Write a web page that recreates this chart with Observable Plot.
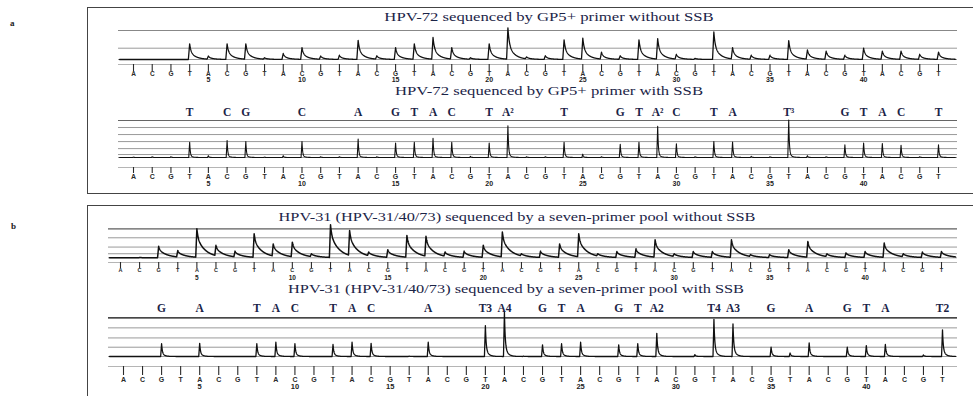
<!DOCTYPE html>
<html><head><meta charset="utf-8">
<script src="https://cdn.jsdelivr.net/npm/d3@7"></script>
<script src="https://cdn.jsdelivr.net/npm/@observablehq/plot@0.6"></script>
<style>
body{margin:0;background:#fff;}
#root{position:relative;width:973px;height:396px;overflow:hidden;background:#fff;font-family:"Liberation Serif","Times New Roman",serif;}
.title{position:absolute;white-space:nowrap;font-size:11.5px;color:#1b2447;z-index:3;line-height:1;}
.lab{position:absolute;font-size:9px;font-weight:bold;color:#222;z-index:3;line-height:1;}
.box{position:absolute;border:1.5px solid #444;box-sizing:border-box;}
.pl{position:absolute;left:0;z-index:2;}
</style></head><body><div id="root"></div>
<script>
// ---------- data ----------
const dispensation = "ACGTACGTACGTACGTACGTACGTACGTACGTACGTACGTACGT".split("");
const positions = d3.range(1, 45);
const numberTicks = [5, 10, 15, 20, 25, 30, 35, 40];

const aTopTitle = "HPV-72 sequenced by GP5+ primer without SSB";
const aBotTitle = "HPV-72 sequenced by GP5+ primer with SSB";
const bTopTitle = "HPV-31 (HPV-31/40/73) sequenced by a seven-primer pool without SSB";
const bBotTitle = "HPV-31 (HPV-31/40/73) sequenced by a seven-primer pool with SSB";

// peak heights per dispensation (top gridline = 100)
const aTopHeights = [0,0,0,54,12,54,54,6,21,41,12,15,66,13,41,54,76,41,6,54,109,9,13,68,74,25,13,68,72,18,4,95,41,15,15,65,33,29,15,39,29,29,18,25];
const aBotHeights = [1,2,2,41,5,46,43,1,5,43,2,2,50,2,39,41,52,41,3,39,86,2,2,41,9,2,36,41,84,37,2,43,42,3,2,101,5,2,34,39,38,33,2,34];
const bTopHeights = [0,1,40,25,100,43,23,83,48,54,14,114,94,20,28,77,74,20,23,43,89,14,23,48,83,14,22,31,62,14,22,22,62,11,11,28,56,14,17,22,51,14,20,22];
const bBotHeights = [0,0,33,0,34,0,0,33,37,33,0,31,37,34,0,1,37,0,0,80,115,1,30,33,37,0,30,33,60,0,5,96,84,0,24,9,35,0,24,28,31,0,4,69];

const aTopGrid = [100, 39, 0];
const aBotGrid = [100, 81, 62, 43, 24, 8, 0];
const bTopGrid = [100, 69, 37, 14, 0];
const bBotGrid = [100, 74, 48, 24, 0];

const aSeqPos = [4,6,7,10,13,15,16,17,18,20,21,24,27,28,29,30,32,33,36,39,40,41,42,44];
const aSeqLabels = ["T","C","G","C","A","G","T","A","C","T","A²","T","G","T","A²","C","T","A","T³","G","T","A","C","T"];
const bSeqPos = [3,5,8,9,10,12,13,14,17,20,21,23,24,25,27,28,29,32,33,35,37,39,40,41,44];
const bSeqLabels = ["G","A","T","A","C","T","A","C","A","T3","A4","G","T","A","G","T","A2","T4","A3","G","A","G","T","A","T2"];

// ---------- rendering ----------
const root = document.getElementById("root");
function addDiv(cls, text, css){ const d=document.createElement("div"); d.className=cls; if(text) d.textContent=text; Object.assign(d.style, css); root.appendChild(d); return d; }

addDiv("box", "", {left:"87px", top:"7px", width:"1000px", height:"187px"});
addDiv("box", "", {left:"87px", top:"205px", width:"1000px", height:"300px"});
addDiv("lab", "a", {left:"10px", top:"19px"});
addDiv("lab", "b", {left:"11px", top:"222px"});

function title(text, cx, cy, sx){
  const d = addDiv("title", text, {left: cx+"px", top: cy+"px"});
  d.style.transform = `translate(-50%,-50%) scaleX(${sx})`;
}
title(aTopTitle, 549, 18, 1.45);
title(aBotTitle, 549, 92, 1.45);
title(bTopTitle, 517, 218, 1.42);
title(bBotTitle, 516, 290, 1.42);

const makeKernel = (rise, parts) => d =>
  d < -rise ? 0 : d < 0 ? 1 + d / rise : d > 4 ? 0 : parts.reduce((s, [w, t]) => s + w * Math.exp(-d / t), 0);

function pyrogram(heights, grid, strongStroke, seqPos, seqLabels, L, kernel){
  // amplitudes so that the drawn tops equal the read heights
  const amp = [];
  heights.forEach((h, i) => {
    let carry = 0;
    for (let j = 0; j < i; j++) carry += amp[j] * kernel(i - j);
    amp.push(Math.max(0, h - carry));
  });
  const sp = (L.x44 - L.x1) / 43;
  const xStart = 1 + (L.gridLeft + 1 - L.x1) / sp, xEnd = 1 + (L.gridRight - 2 - L.x1) / sp;
  const trace = [];
  for (let n = Math.ceil(xStart * 100); n <= Math.floor(xEnd * 100); n++) {
    const x = n / 100; let y = 0;
    amp.forEach((a, i) => { if (a) y += a * kernel(x - (i + 1)); });
    trace.push({x, y});
  }
  const yv = py => (L.baseY - py) / (L.baseY - L.topY) * 100;
  const marks = [
    Plot.ruleY(grid, {stroke: "#9a9a9a", strokeWidth: 1}),
    Plot.ruleY([grid[0]], {stroke: strongStroke, strokeWidth: 1.2}),
    Plot.ruleY([yv(L.axisY)], {stroke: "#b5b5b5", strokeWidth: 1}),
    Plot.line(trace, {x: "x", y: "y", stroke: "#111", strokeWidth: L.lw}),
    Plot.axisX({ticks: positions, tickFormat: d => dispensation[d - 1], tickSize: L.tickSize, tickPadding: L.letterPad, fontSize: L.letterSize, fontWeight: "bold", color: "#2a2a2a", strokeWidth: 1.1, label: null}),
    Plot.axisX({ticks: numberTicks, tickFormat: d => String(d), tickSize: 0, tickPadding: L.numberPad, fontSize: L.numberSize, fontWeight: "bold", color: "#222", label: null})
  ];
  if (seqPos) {
    marks.push(Plot.text(seqPos.map((p, i) => i), {x: i => seqPos[i], text: i => seqLabels[i], frameAnchor: "top", lineAnchor: "middle", fontSize: 11.5, fontWeight: "bold", fill: "#1b2447", fontFamily: "Liberation Serif, serif"}));
  }
  const svg = Plot.plot({
    width: 973, height: L.height,
    marginLeft: L.gridLeft, marginRight: 973 - L.gridRight,
    marginTop: L.seqY ? L.seqY - L.top : 0,
    marginBottom: L.top + L.height - L.axisY,
    x: {domain: [1, 44], range: [L.x1, L.x44], label: null},
    y: {domain: [0, 100], range: [L.baseY - L.top, L.topY - L.top], axis: null},
    style: {background: "transparent", fontFamily: "Liberation Sans, sans-serif", overflow: "visible"},
    marks
  });
  svg.classList.add("pl");
  svg.style.top = L.top + "px";
  svg.style.left = "0px";
  svg.style.position = "absolute";
  root.appendChild(svg);
}

pyrogram(aTopHeights, aTopGrid, "#888", null, null,
  {top: 20, height: 68, x1: 133, x44: 938, gridLeft: 118, gridRight: 957, baseY: 59, topY: 30, axisY: 64,
   tickSize: 7, letterPad: 0, letterSize: 6.5, numberPad: 13, numberSize: 7, lw: 1.3},
  makeKernel(0.07, [[0.5, 0.07], [0.5, 0.32]]));

pyrogram(aBotHeights, aBotGrid, "#666", aSeqPos, aSeqLabels,
  {top: 98, height: 94, seqY: 112, x1: 133, x44: 938, gridLeft: 118, gridRight: 957, baseY: 157, topY: 120, axisY: 167,
   tickSize: 6, letterPad: 1, letterSize: 7, numberPad: 14, numberSize: 7, lw: 1.1},
  makeKernel(0.05, [[0.9, 0.035], [0.1, 0.15]]));

pyrogram(bTopHeights, bTopGrid, "#777", null, null,
  {top: 222, height: 62, x1: 120, x44: 941, gridLeft: 108, gridRight: 957, baseY: 257.3, topY: 228.3, axisY: 262,
   tickSize: 6, letterPad: 0, letterSize: 5.5, numberPad: 12.8, numberSize: 6.5, lw: 1.5},
  makeKernel(0.06, [[0.3, 0.06], [0.7, 0.45]]));

pyrogram(bBotHeights, bBotGrid, "#222", bSeqPos, bSeqLabels,
  {top: 294, height: 102, seqY: 308, x1: 123, x44: 942, gridLeft: 108, gridRight: 957, baseY: 356, topY: 317.3, axisY: 366,
   tickSize: 9, letterPad: 1.3, letterSize: 7, numberPad: 17, numberSize: 7.5, lw: 1.3},
  makeKernel(0.05, [[0.75, 0.04], [0.25, 0.15]]));
</script></body></html>
